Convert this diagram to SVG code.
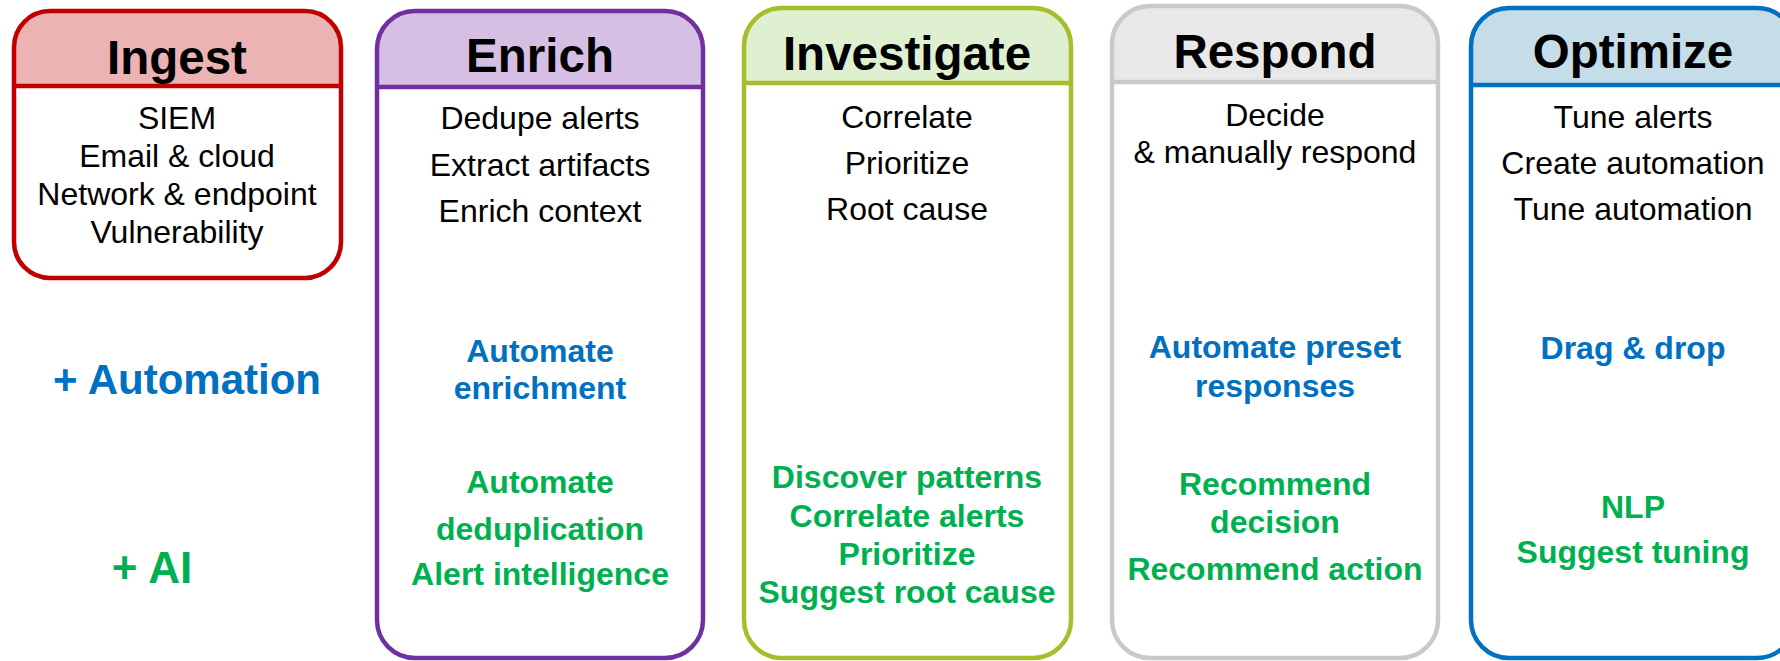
<svg xmlns="http://www.w3.org/2000/svg" width="1780" height="661" viewBox="0 0 1780 661">
<style>
  .box { fill: none; stroke-width: 4.5; }
  .title { font-family: "Liberation Sans", Arial, sans-serif; font-weight: bold; font-size: 47.5px; fill: #000; text-anchor: middle; }
  .body { font-family: "Liberation Sans", Arial, sans-serif; font-size: 32px; fill: #000; text-anchor: middle; }
  .auto { font-family: "Liberation Sans", Arial, sans-serif; font-weight: bold; font-size: 32px; fill: #0070C0; text-anchor: middle; }
  .ai { font-family: "Liberation Sans", Arial, sans-serif; font-weight: bold; font-size: 32px; fill: #00B050; text-anchor: middle; }
</style>
<rect x="0" y="0" width="1780" height="661" fill="#ffffff"/>

<g id="ingest">
  <path d="M14,86 V47 A36,36 0 0 1 50,11 H305 A36,36 0 0 1 341,47 V86 Z" fill="#EBB3B3"/>
  <rect class="box" x="14" y="11" width="327" height="267" rx="36" stroke="#C00000"/>
  <line x1="14" y1="86" x2="341" y2="86" stroke="#C00000" stroke-width="4.5"/>
  <text class="title" x="177" y="74">Ingest</text>
  <text class="body" x="177" y="129">SIEM</text>
  <text class="body" x="177" y="167">Email &amp; cloud</text>
  <text class="body" x="177" y="205">Network &amp; endpoint</text>
  <text class="body" x="177" y="243">Vulnerability</text>
</g>

<g id="enrich">
  <path d="M377,87 V47 A36,36 0 0 1 413,11 H667 A36,36 0 0 1 703,47 V87 Z" fill="#D5BFE2"/>
  <rect class="box" x="377" y="11" width="326" height="647" rx="38" stroke="#7030A0"/>
  <line x1="377" y1="87" x2="703" y2="87" stroke="#7030A0" stroke-width="4.5"/>
  <text class="title" x="540" y="72">Enrich</text>
  <text class="body" x="540" y="129">Dedupe alerts</text>
  <text class="body" x="540" y="176">Extract artifacts</text>
  <text class="body" x="540" y="222">Enrich context</text>
  <text class="auto" x="540" y="362">Automate</text>
  <text class="auto" x="540" y="399">enrichment</text>
  <text class="ai" x="540" y="493">Automate</text>
  <text class="ai" x="540" y="540">deduplication</text>
  <text class="ai" x="540" y="585">Alert intelligence</text>
</g>

<g id="investigate">
  <path d="M744,83 V44 A36,36 0 0 1 780,8 H1035 A36,36 0 0 1 1071,44 V83 Z" fill="#DFF0D1"/>
  <rect class="box" x="744" y="8" width="327" height="650" rx="38" stroke="#A8BD2A"/>
  <line x1="744" y1="83" x2="1071" y2="83" stroke="#A8BD2A" stroke-width="4.5"/>
  <text class="title" x="907" y="70">Investigate</text>
  <text class="body" x="907" y="128">Correlate</text>
  <text class="body" x="907" y="174">Prioritize</text>
  <text class="body" x="907" y="220">Root cause</text>
  <text class="ai" x="907" y="488">Discover patterns</text>
  <text class="ai" x="907" y="527">Correlate alerts</text>
  <text class="ai" x="907" y="565">Prioritize</text>
  <text class="ai" x="907" y="603">Suggest root cause</text>
</g>

<g id="respond">
  <path d="M1112,82 V42 A36,36 0 0 1 1148,6 H1402 A36,36 0 0 1 1438,42 V82 Z" fill="#E8E8E8"/>
  <rect class="box" x="1112" y="6" width="326" height="652" rx="38" stroke="#C9C9C9"/>
  <line x1="1112" y1="82" x2="1438" y2="82" stroke="#C9C9C9" stroke-width="4.5"/>
  <text class="title" x="1275" y="68">Respond</text>
  <text class="body" x="1275" y="126">Decide</text>
  <text class="body" x="1275" y="163">&amp; manually respond</text>
  <text class="auto" x="1275" y="358">Automate preset</text>
  <text class="auto" x="1275" y="397">responses</text>
  <text class="ai" x="1275" y="495">Recommend</text>
  <text class="ai" x="1275" y="533">decision</text>
  <text class="ai" x="1275" y="580">Recommend action</text>
</g>

<g id="optimize">
  <path d="M1471,85 V44 A36,36 0 0 1 1507,8 H1759 A36,36 0 0 1 1795,44 V85 Z" fill="#C5DCE9"/>
  <rect class="box" x="1471" y="8" width="324" height="650" rx="38" stroke="#0070C0"/>
  <line x1="1471" y1="85" x2="1795" y2="85" stroke="#0070C0" stroke-width="4.5"/>
  <text class="title" x="1633" y="68">Optimize</text>
  <text class="body" x="1633" y="128">Tune alerts</text>
  <text class="body" x="1633" y="174">Create automation</text>
  <text class="body" x="1633" y="220">Tune automation</text>
  <text class="auto" x="1633" y="359">Drag &amp; drop</text>
  <text class="ai" x="1633" y="518">NLP</text>
  <text class="ai" x="1633" y="563">Suggest tuning</text>
</g>

<g id="row-labels">
  <text x="187" y="394" font-family="Liberation Sans, Arial, sans-serif" font-weight="bold" font-size="42" fill="#0070C0" text-anchor="middle">+ Automation</text>
  <text x="152" y="583" font-family="Liberation Sans, Arial, sans-serif" font-weight="bold" font-size="44" fill="#00B050" text-anchor="middle">+ AI</text>
</g>

<g id="connectors"></g>
</svg>
